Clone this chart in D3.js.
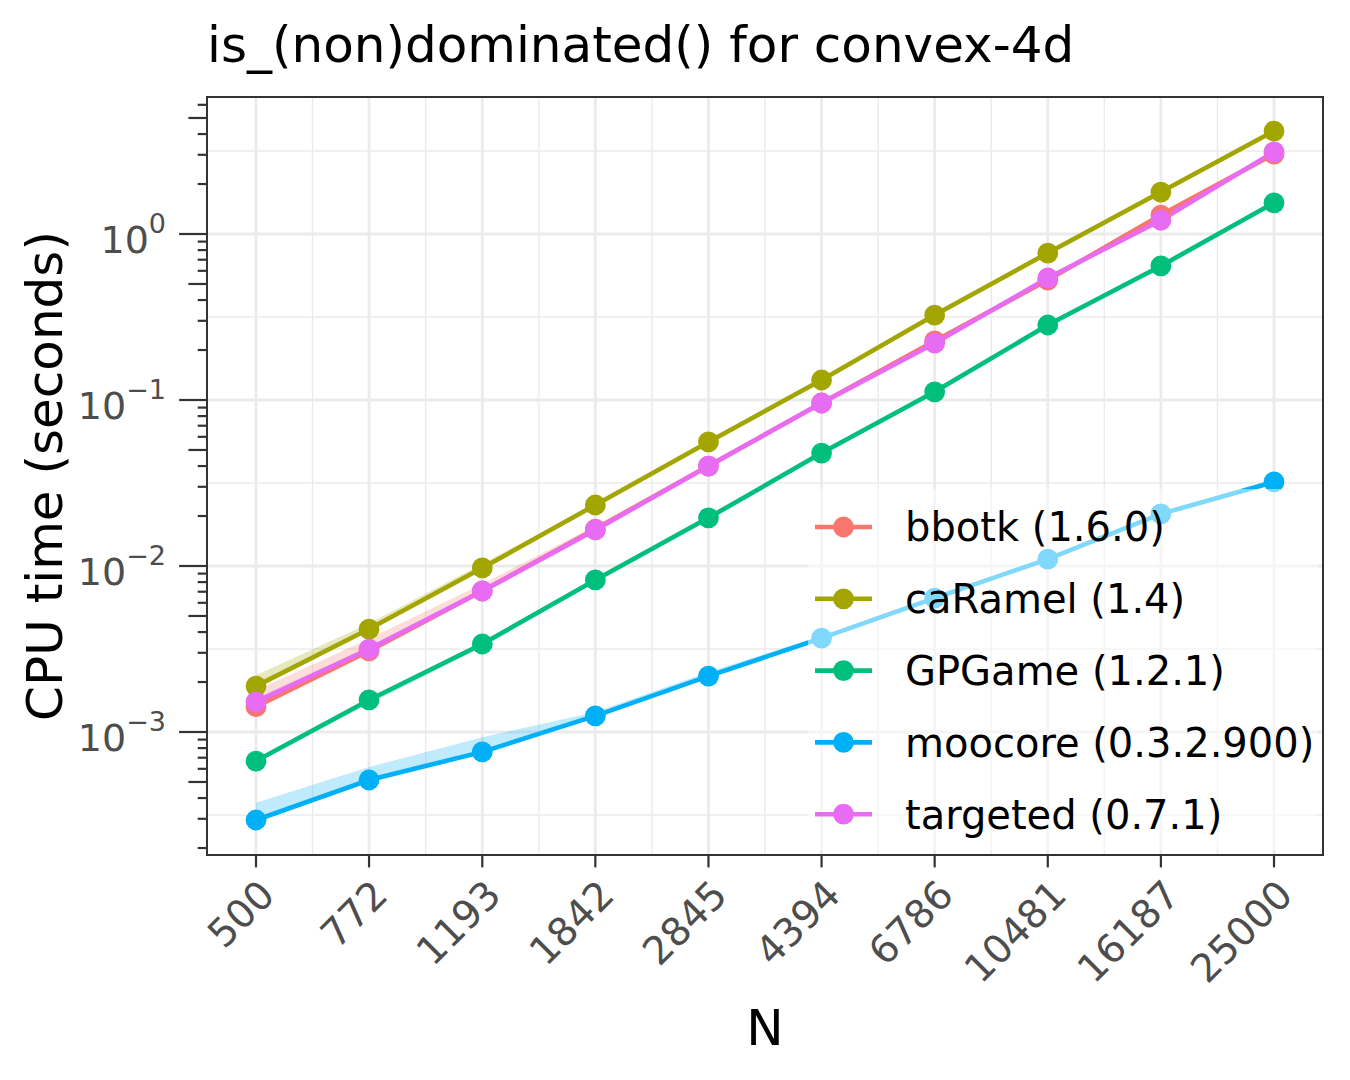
<!DOCTYPE html>
<html>
<head>
<meta charset="utf-8">
<script src="https://cdn.jsdelivr.net/npm/d3@7"></script>
<style>
    body { margin: 0; background: #fff; }
    text { font-family: "DejaVu Sans", sans-serif; }
</style>
</head>
<body>
<div id="chart"></div>
<script>

// problem sizes on the x axis
const sizes = [500, 772, 1193, 1842, 2845, 4394, 6786, 10481, 16187, 25000];

// packages, in legend order
const packages = ['bbotk (1.6.0)', 'caRamel (1.4)', 'GPGame (1.2.1)', 'moocore (0.3.2.900)', 'targeted (0.7.1)'];
const colors = ['#F8766D', '#A3A500', '#00BF7D', '#00B0F6', '#E76BF3'];

// cpu time (seconds), median and band per package
const bbotkTime = [1.42e-3, 3.08e-3, 7.07e-3, 0.0167, 0.0400, 0.0959, 0.227, 0.528, 1.30, 3.03];
const bbotkLow = [1.38e-3, 3.0e-3, 6.9e-3, 0.0163, 0.0392, 0.0945, 0.224, 0.52, 1.28, 2.98];
const bbotkHigh = [1.78e-3, 3.65e-3, 7.8e-3, 0.0175, 0.0412, 0.0985, 0.233, 0.545, 1.33, 3.08];

const caRamelTime = [1.89e-3, 4.17e-3, 9.73e-3, 0.0233, 0.0559, 0.132, 0.325, 0.768, 1.79, 4.17];
const caRamelLow = [1.85e-3, 4.08e-3, 9.55e-3, 0.0230, 0.0553, 0.131, 0.322, 0.762, 1.77, 4.13];
const caRamelHigh = [2.2e-3, 4.5e-3, 1.03e-2, 0.0238, 0.0566, 0.134, 0.329, 0.775, 1.81, 4.22];

const gpgameTime = [6.68e-4, 1.56e-3, 3.39e-3, 8.24e-3, 0.0195, 0.0479, 0.112, 0.283, 0.642, 1.54];
const gpgameLow = [6.5e-4, 1.48e-3, 3.25e-3, 8.0e-3, 0.0191, 0.0472, 0.111, 0.280, 0.636, 1.53];
const gpgameHigh = [6.8e-4, 1.6e-3, 3.5e-3, 8.4e-3, 0.0198, 0.0484, 0.113, 0.286, 0.648, 1.56];

const moocoreTime = [2.95e-4, 5.14e-4, 7.59e-4, 1.25e-3, 2.17e-3, 3.68e-3, 6.41e-3, 0.0110, 0.0206, 0.0321];
const moocoreLow = [2.85e-4, 5.0e-4, 7.35e-4, 1.22e-3, 2.12e-3, 3.62e-3, 6.3e-3, 0.0108, 0.0203, 0.0318];
const moocoreHigh = [3.75e-4, 6.15e-4, 9.3e-4, 1.32e-3, 2.3e-3, 3.8e-3, 6.6e-3, 0.0113, 0.0211, 0.0326];

const targetedTime = [1.52e-3, 3.16e-3, 7.07e-3, 0.0165, 0.0400, 0.0959, 0.220, 0.543, 1.21, 3.12];
const targetedLow = [1.45e-3, 3.05e-3, 6.9e-3, 0.0162, 0.0395, 0.0948, 0.217, 0.535, 1.19, 3.08];
const targetedHigh = [1.6e-3, 3.25e-3, 7.2e-3, 0.0168, 0.0406, 0.0968, 0.224, 0.552, 1.23, 3.16];

// y axis decades
const yBreaks = [1e-3, 1e-2, 1e-1, 1];
const yExponents = ['\u22123', '\u22122', '\u22121', '0'];

const series = [
    {times: bbotkTime, low: bbotkLow, high: bbotkHigh},
    {times: caRamelTime, low: caRamelLow, high: caRamelHigh},
    {times: gpgameTime, low: gpgameLow, high: gpgameHigh},
    {times: moocoreTime, low: moocoreLow, high: moocoreHigh},
    {times: targetedTime, low: targetedLow, high: targetedHigh}
].map((s, i) => ({
    name: packages[i],
    color: colors[i],
    values: sizes.map((n, j) => ({n: n, t: s.times[j], lo: s.low[j], hi: s.high[j]}))
}));

const W = 1350;
const H = 1080;
const panel = {l: 207, r: 1323, t: 97, b: 855};

const svg = d3.select('#chart')
    .append('svg')
    .attr('width', W)
    .attr('height', H);

// scales, log on both axes with ggplot style 5% padding
const x = d3.scaleLog()
    .domain([500, 25000])
    .range([256, 1274]);

const y = d3.scaleLog()
    .domain([1e-3, 1])
    .range([732, 234]);

// grid
const grid = svg.append('g');

// minor grid at log midpoints
const xMinor = d3.pairs(sizes).map(p => Math.sqrt(p[0] * p[1]));
const yMinor = [-3.5, -2.5, -1.5, -0.5, 0.5].map(e => Math.pow(10, e))
    .filter(v => y(v) > panel.t && y(v) < panel.b);

grid.selectAll('.xminor')
    .data(xMinor)
    .enter()
    .append('line')
    .attr('x1', d => x(d)).attr('x2', d => x(d))
    .attr('y1', panel.t).attr('y2', panel.b)
    .attr('stroke', '#EBEBEB')
    .attr('stroke-width', 1.4);

grid.selectAll('.yminor')
    .data(yMinor)
    .enter()
    .append('line')
    .attr('x1', panel.l).attr('x2', panel.r)
    .attr('y1', d => y(d)).attr('y2', d => y(d))
    .attr('stroke', '#EBEBEB')
    .attr('stroke-width', 1.4);

grid.selectAll('.xmajor')
    .data(sizes)
    .enter()
    .append('line')
    .attr('x1', d => x(d)).attr('x2', d => x(d))
    .attr('y1', panel.t).attr('y2', panel.b)
    .attr('stroke', '#EBEBEB')
    .attr('stroke-width', 2.8);

grid.selectAll('.ymajor')
    .data(yBreaks)
    .enter()
    .append('line')
    .attr('x1', panel.l).attr('x2', panel.r)
    .attr('y1', d => y(d)).attr('y2', d => y(d))
    .attr('stroke', '#EBEBEB')
    .attr('stroke-width', 2.8);

// clip marks to the panel
svg.append('clipPath')
    .attr('id', 'clip')
    .append('rect')
    .attr('x', panel.l).attr('y', panel.t)
    .attr('width', panel.r - panel.l)
    .attr('height', panel.b - panel.t);

const plot = svg.append('g')
    .attr('clip-path', 'url(#clip)');

const area = d3.area()
    .x(d => x(d.n))
    .y0(d => y(d.lo))
    .y1(d => y(d.hi));

const line = d3.line()
    .x(d => x(d.n))
    .y(d => y(d.t));

plot.selectAll('.ribbon')
    .data(series)
    .enter()
    .append('path')
    .attr('d', d => area(d.values))
    .attr('fill', d => d.color)
    .attr('fill-opacity', 0.25);

plot.selectAll('.line')
    .data(series)
    .enter()
    .append('path')
    .attr('d', d => line(d.values))
    .attr('fill', 'none')
    .attr('stroke', d => d.color)
    .attr('stroke-width', 4.6);

series.forEach(s => {
    plot.append('g')
        .selectAll('circle')
        .data(s.values)
        .enter()
        .append('circle')
        .attr('cx', d => x(d.n))
        .attr('cy', d => y(d.t))
        .attr('r', 10.4)
        .attr('fill', s.color);
});

// legend, half transparent box in the lower right of the panel
const legend = svg.append('g');
const legendBox = {l: 808, r: 1318, t: 489, b: 850};
const rowStep = 71.8;

legend.append('rect')
    .attr('x', legendBox.l).attr('y', legendBox.t)
    .attr('width', legendBox.r - legendBox.l)
    .attr('height', legendBox.b - legendBox.t)
    .attr('fill', '#fff')
    .attr('fill-opacity', 0.5);

const rows = legend.selectAll('.row')
    .data(series)
    .enter()
    .append('g')
    .attr('transform', (d, i) => `translate(0,${527 + i * rowStep})`);

rows.append('line')
    .attr('x1', 815).attr('x2', 872)
    .attr('stroke', d => d.color)
    .attr('stroke-width', 4.6);

rows.append('circle')
    .attr('cx', 843.5)
    .attr('r', 10.4)
    .attr('fill', d => d.color);

rows.append('text')
    .attr('x', 905)
    .attr('dy', '0.36em')
    .attr('font-size', 40)
    .attr('fill', '#000')
    .text(d => d.name);

// panel border
svg.append('rect')
    .attr('x', panel.l).attr('y', panel.t)
    .attr('width', panel.r - panel.l)
    .attr('height', panel.b - panel.t)
    .attr('fill', 'none')
    .attr('stroke', '#333333')
    .attr('stroke-width', 2);

// x axis ticks and rotated labels
const xAxis = svg.append('g');
const tickLen = 12.4;

xAxis.selectAll('.tick')
    .data(sizes)
    .enter()
    .append('line')
    .attr('x1', d => x(d)).attr('x2', d => x(d))
    .attr('y1', panel.b).attr('y2', panel.b + tickLen)
    .attr('stroke', '#333333')
    .attr('stroke-width', 2.2);

xAxis.selectAll('.label')
    .data(sizes)
    .enter()
    .append('text')
    .attr('transform', d => `translate(${x(d) + 1},${panel.b + tickLen + 10}) rotate(-45)`)
    .attr('text-anchor', 'end')
    .attr('dy', '0.72em')
    .attr('font-size', 39)
    .attr('fill', '#4D4D4D')
    .text(d => d);

// y axis log ticks: long at decades, mid at 5, short elsewhere
const yAxis = svg.append('g');
const logTicks = [];
d3.range(-4, 1).forEach(e => {
    d3.range(1, 10).forEach(m => {
        const v = m * Math.pow(10, e);
        const py = y(v);
        if (py >= panel.t && py <= panel.b) {
            logTicks.push({v: v, len: m === 1 ? tickLen * 2.25 : (m === 5 ? tickLen * 1.5 : tickLen * 0.75)});
        }
    });
});

yAxis.selectAll('.tick')
    .data(logTicks)
    .enter()
    .append('line')
    .attr('x1', d => panel.l - d.len).attr('x2', panel.l)
    .attr('y1', d => y(d.v)).attr('y2', d => y(d.v))
    .attr('stroke', '#333333')
    .attr('stroke-width', 2.2);

const yLabels = yAxis.selectAll('.label')
    .data(yBreaks)
    .enter()
    .append('text')
    .attr('x', 166)
    .attr('y', d => y(d) + 19)
    .attr('text-anchor', 'end')
    .attr('font-size', 38)
    .attr('fill', '#4D4D4D');

yLabels.append('tspan')
    .text('10');

yLabels.append('tspan')
    .attr('dy', -20)
    .attr('font-size', 27)
    .text((d, i) => yExponents[i]);

// titles
svg.append('text')
    .attr('x', panel.l)
    .attr('y', 62)
    .attr('font-size', 50)
    .attr('fill', '#000')
    .text('is_(non)dominated() for convex-4d');

svg.append('text')
    .attr('x', (panel.l + panel.r) / 2)
    .attr('y', 1045)
    .attr('text-anchor', 'middle')
    .attr('font-size', 50)
    .attr('fill', '#000')
    .text('N');

svg.append('text')
    .attr('transform', `translate(62,${(panel.t + panel.b) / 2}) rotate(-90)`)
    .attr('text-anchor', 'middle')
    .attr('font-size', 50)
    .attr('fill', '#000')
    .text('CPU time (seconds)');

</script>
</body>
</html>
